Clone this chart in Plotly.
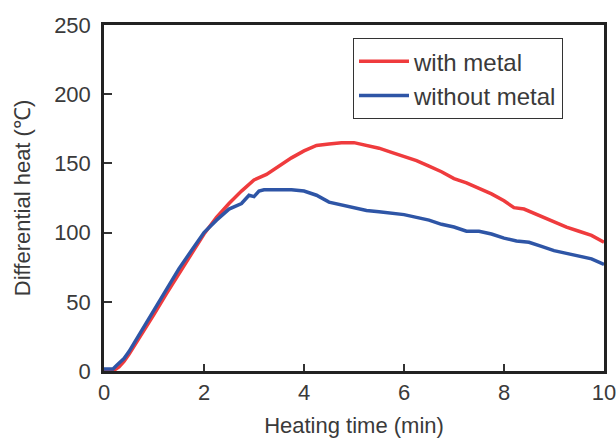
import plotly.graph_objects as go

time_with = [0, 0.1, 0.2, 0.3, 0.4, 0.5, 0.75, 1.0, 1.25, 1.5, 1.75, 2.0, 2.25, 2.5, 2.75, 3.0,
             3.25, 3.5, 3.75, 4.0, 4.25, 4.5, 4.75, 5.0, 5.25, 5.5, 5.75, 6.0, 6.25, 6.5, 6.75,
             7.0, 7.25, 7.5, 7.75, 8.0, 8.2, 8.4, 8.6, 8.8, 9.0, 9.25, 9.5, 9.75, 10.0]
heat_with = [0, 0, 0.5, 3, 7, 12, 26, 41, 56, 70, 84, 99, 111, 121, 130, 138,
             142, 148, 154, 159, 163, 164, 165, 165, 163, 161, 158, 155, 152, 148, 144,
             139, 136, 132, 128, 123, 118, 117, 114, 111, 108, 104, 101, 98, 93]

time_without = [0, 0.18, 0.25, 0.4, 0.5, 0.75, 1.0, 1.25, 1.5, 1.75, 2.0, 2.25, 2.5, 2.75, 2.9,
                3.0, 3.1, 3.2, 3.5, 3.75, 4.0, 4.25, 4.5, 4.75, 5.0, 5.25, 5.5, 5.75, 6.0, 6.25,
                6.5, 6.75, 7.0, 7.25, 7.5, 7.75, 8.0, 8.25, 8.5, 8.75, 9.0, 9.25, 9.5, 9.75, 10.0]
heat_without = [1.5, 1.5, 4, 9, 14, 29, 45, 60, 74, 87, 100, 109, 117, 121, 127,
                126, 130, 131, 131, 131, 130, 127, 122, 120, 118, 116, 115, 114, 113, 111,
                109, 106, 104, 101, 101, 99, 96, 94, 93, 90, 87, 85, 83, 81, 77]

x_ticks = [0, 2, 4, 6, 8, 10]
y_ticks = [0, 50, 100, 150, 200, 250]

text_font = "Liberation Sans, Arial, sans-serif"
tick_font = "Liberation Sans, Arial, sans-serif"
text_color = "#3a3a3a"

fig = go.Figure()
fig.add_trace(go.Scatter(x=time_with, y=heat_with, mode="lines", name="with metal",
                         legendgroup="a", line=dict(color="#ef3b3d", width=3.5)))
fig.add_trace(go.Scatter(x=time_without, y=heat_without, mode="lines", name="without metal",
                         legendgroup="b", line=dict(color="#2e55a6", width=3.5)))

fig.update_layout(
    width=616, height=439,
    margin=dict(l=104, r=12, t=25, b=68),
    paper_bgcolor="white", plot_bgcolor="white",
    font=dict(family=text_font, color=text_color, size=22),
    legend=dict(x=0.498, y=0.962, xanchor="left", yanchor="top",
                bordercolor="#333333", borderwidth=1, bgcolor="white",
                font=dict(size=24, family=text_font, color=text_color),
                traceorder="grouped", tracegroupgap=0, itemwidth=50),
    xaxis=dict(range=[0, 10], tickvals=x_ticks, ticks="inside", ticklen=7, tickwidth=1.5,
               tickcolor="#333333", showline=True, linecolor="#222222", linewidth=2.5,
               mirror=True, showgrid=False, zeroline=False, automargin=False,
               ticklabeloverflow="allow",
               tickfont=dict(size=22, family=tick_font, color=text_color),
               title=dict(text="Heating time (min)", standoff=14,
                          font=dict(size=22, family=text_font, color=text_color))),
    yaxis=dict(range=[0, 250], tickvals=y_ticks, ticks="inside", ticklen=8, tickwidth=1.5,
               tickcolor="#333333", showline=True, linecolor="#222222", linewidth=2.5,
               mirror=True, showgrid=False, zeroline=False, automargin=False,
               ticklabelstandoff=6,
               tickfont=dict(size=22, family=tick_font, color=text_color),
               title=dict(text="Differential heat (℃)", standoff=18,
                          font=dict(size=22, family=text_font, color=text_color))),
)

fig.write_html("out.html", config={"displayModeBar": False},
               post_script="document.body.style.margin='0';")
